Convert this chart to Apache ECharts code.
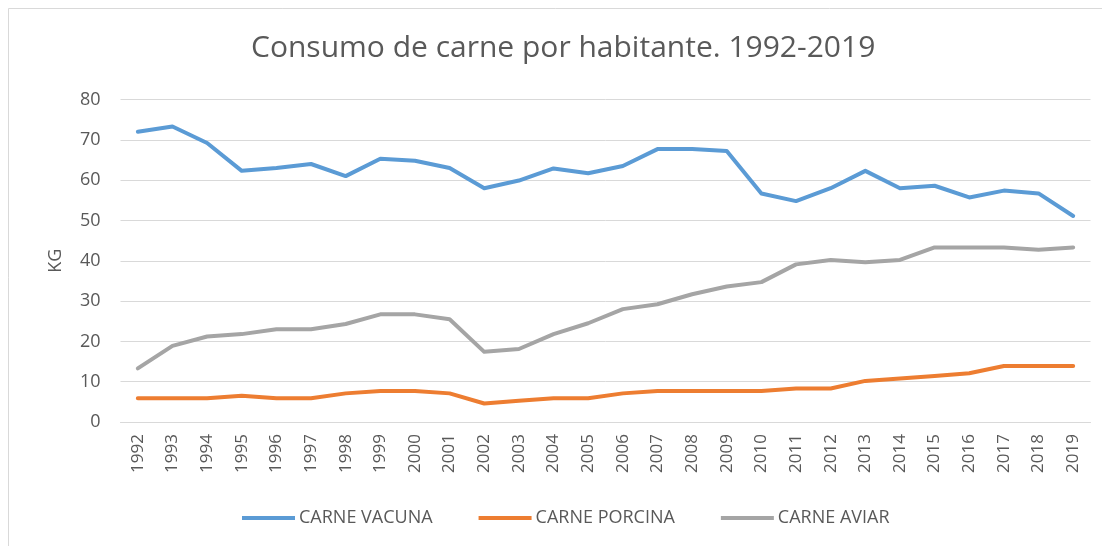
<!DOCTYPE html>
<html>
<head>
<meta charset="utf-8">
<script src="https://cdn.jsdelivr.net/npm/echarts@6/dist/echarts.min.js"></script>
<style>
html,body{margin:0;padding:0;background:#fff;}
#chart{width:1102px;height:546px;}
</style>
</head>
<body>
<div id="chart"></div>
<script>
const years = ['1992','1993','1994','1995','1996','1997','1998','1999','2000','2001','2002','2003','2004','2005','2006','2007','2008','2009','2010','2011','2012','2013','2014','2015','2016','2017','2018','2019'];
const carneVacuna = [72.0,73.3,69.2,62.3,63.0,64.0,61.0,65.3,64.8,63.0,58.0,59.9,62.9,61.7,63.5,67.7,67.7,67.2,56.7,54.8,58.0,62.3,58.0,58.6,55.7,57.4,56.7,51.1];
const carnePorcina = [5.9,5.9,5.9,6.5,5.9,5.9,7.1,7.7,7.7,7.1,4.6,5.3,5.9,5.9,7.1,7.7,7.7,7.7,7.7,8.3,8.3,10.2,10.8,11.4,12.1,13.9,13.9,13.9];
const carneAviar = [13.3,18.9,21.2,21.8,23.0,23.0,24.3,26.7,26.7,25.5,17.4,18.1,21.8,24.5,28.0,29.2,31.7,33.6,34.7,39.1,40.2,39.6,40.2,43.3,43.3,43.3,42.7,43.3];
const seriesNames = ['CARNE VACUNA','CARNE PORCINA','CARNE AVIAR'];
const colors = ['#5B9BD5','#ED7D31','#A5A5A5'];

const chart = echarts.init(document.getElementById('chart'), null, {renderer:'canvas'});
const font = '"Open Sans", "Noto Sans", sans-serif';
function mk(name, data, color){
  return {name, type:'line', data, symbol:'none', smooth:false,
    lineStyle:{width:4, color, cap:'round', join:'round'}, itemStyle:{color}};
}
chart.setOption({
  animation:false,
  backgroundColor:'#fff',
  graphic:[{type:'rect', shape:{x:8.5,y:8.5,width:1200,height:600}, style:{fill:null, stroke:'#D9D9D9', lineWidth:1}}],
  title:{text:'Consumo de carne por habitante. 1992-2019', left:246, top:28,
    textStyle:{fontFamily:font, fontSize:30, fontWeight:'normal', color:'#595959'}},
  grid:{left:120.5, right:11.5, top:99.5, bottom:124},
  legend:{bottom:14, left:237, itemWidth:53, itemHeight:4, itemGap:46, icon:'rect',
    textStyle:{fontFamily:font, fontSize:18, color:'#595959', padding:[0,0,0,-1]},
    data:seriesNames},
  xAxis:{type:'category', data:years, boundaryGap:true,
    axisLine:{lineStyle:{color:'#D9D9D9'}}, axisTick:{show:false},
    axisLabel:{rotate:90, interval:0, fontFamily:font, fontSize:17, color:'#595959', margin:12}},
  yAxis:{type:'value', min:0, max:80, interval:10, name:'KG', nameLocation:'middle', nameGap:56, nameRotate:90,
    nameTextStyle:{fontFamily:font, fontSize:18, color:'#595959'},
    axisLine:{show:false}, axisTick:{show:false},
    axisLabel:{fontFamily:font, fontSize:18, color:'#595959', margin:20},
    splitLine:{lineStyle:{color:'#D9D9D9', width:1}}},
  series:[mk(seriesNames[0], carneVacuna, colors[0]), mk(seriesNames[1], carnePorcina, colors[1]), mk(seriesNames[2], carneAviar, colors[2])]
});
</script>
</body>
</html>
